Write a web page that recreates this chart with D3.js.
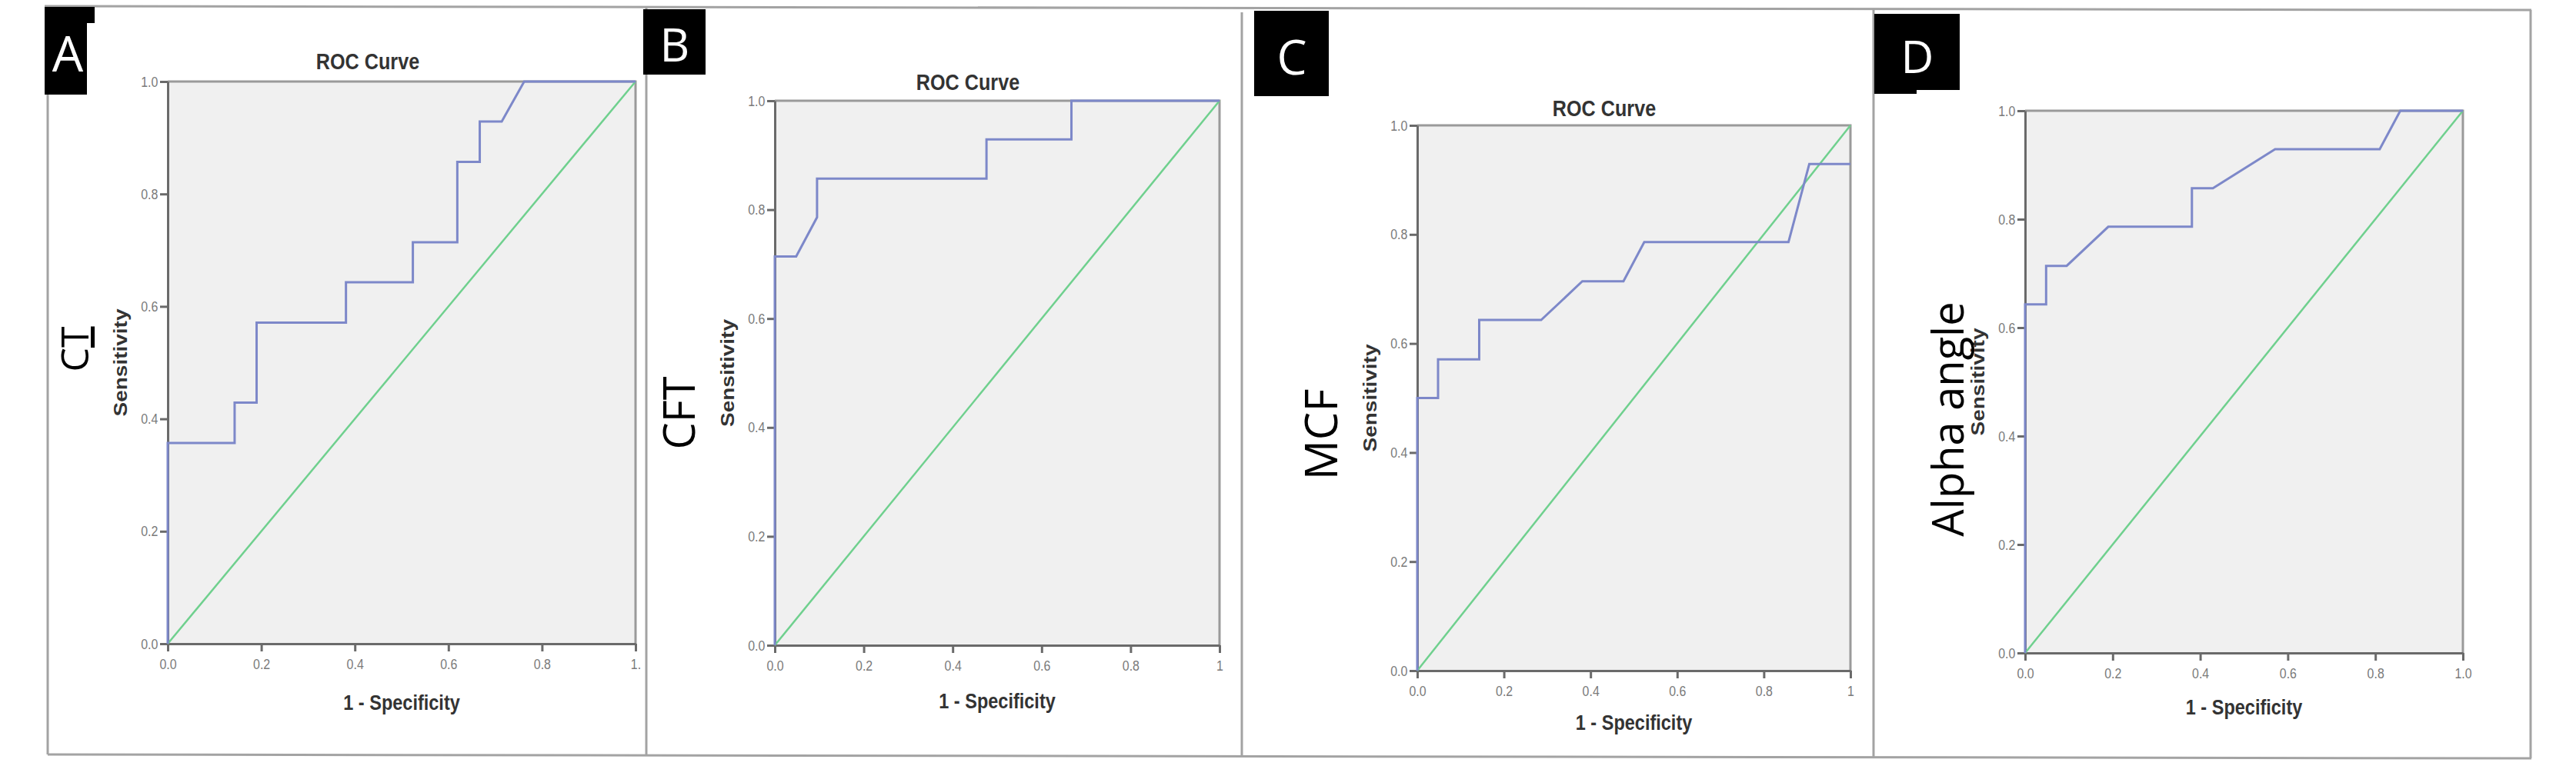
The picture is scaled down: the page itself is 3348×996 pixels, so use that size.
<!DOCTYPE html>
<html><head><meta charset="utf-8">
<script src="https://cdn.jsdelivr.net/npm/d3@7/dist/d3.min.js"></script>
<style>body{margin:0;background:#fff} svg{display:block}</style>
</head><body>
<svg id="chart" width="3348" height="996"></svg>
<script>
// ---------- data ----------
const panelLetters = ["A", "B", "C", "D"];
const panelNames = ["CT", "CFT", "MCF", "Alpha angle"];
const panelTitles = ["ROC Curve", "ROC Curve", "ROC Curve", ""];
const axisTicks = [0, 0.2, 0.4, 0.6, 0.8, 1];
const yTickLabels = ["0.0", "0.2", "0.4", "0.6", "0.8", "1.0"];
const xTickLabelsA = ["0.0", "0.2", "0.4", "0.6", "0.8", "1."];
const xTickLabelsB = ["0.0", "0.2", "0.4", "0.6", "0.8", "1"];
const xTickLabelsC = ["0.0", "0.2", "0.4", "0.6", "0.8", "1"];
const xTickLabelsD = ["0.0", "0.2", "0.4", "0.6", "0.8", "1.0"];
const xAxisTitle = "1 - Specificity";
const yAxisTitle = "Sensitivity";

// ROC curves: 1 - specificity (fpr) and sensitivity (tpr)
const fprA = [0, 0, 0.143, 0.143, 0.190, 0.190, 0.381, 0.381, 0.524, 0.524, 0.619, 0.619, 0.667, 0.667, 0.714, 0.762, 1];
const tprA = [0, 0.357, 0.357, 0.429, 0.429, 0.571, 0.571, 0.643, 0.643, 0.714, 0.714, 0.857, 0.857, 0.929, 0.929, 1, 1];
const fprB = [0, 0, 0.048, 0.095, 0.095, 0.476, 0.476, 0.667, 0.667, 1];
const tprB = [0, 0.714, 0.714, 0.786, 0.857, 0.857, 0.929, 0.929, 1, 1];
const fprC = [0, 0, 0.048, 0.048, 0.143, 0.143, 0.286, 0.381, 0.476, 0.524, 0.857, 0.905, 1];
const tprC = [0, 0.5, 0.5, 0.571, 0.571, 0.643, 0.643, 0.714, 0.714, 0.786, 0.786, 0.929, 0.929];
const fprD = [0, 0, 0.048, 0.048, 0.095, 0.190, 0.381, 0.381, 0.429, 0.571, 0.810, 0.857, 1];
const tprD = [0, 0.643, 0.643, 0.714, 0.714, 0.786, 0.786, 0.857, 0.857, 0.929, 0.929, 1, 1];
// reference (chance) line
const chanceFpr = [0, 1];
const chanceTpr = [0, 1];

// ---------- layout / style ----------
const fprs = [fprA, fprB, fprC, fprD];
const tprs = [tprA, tprB, tprC, tprD];
const xTickSets = [xTickLabelsA, xTickLabelsB, xTickLabelsC, xTickLabelsD];

const layout = [
  {l: 218, r: 826, t: 106, b: 837, titleX: 478, titleY: 90, xlabY: 923,
   boxes: [[58, 9, 65, 21], [58, 9, 55, 114]], letX: 88, letY: 93, letSize: 64,
   nameX: 115, nameY: 454, nameSize: 50},
  {l: 1007, r: 1585, t: 131, b: 839, titleX: 1258, titleY: 117, xlabY: 921,
   boxes: [[836, 12, 81, 85]], letX: 877, letY: 80, letSize: 60,
   nameX: 903, nameY: 537, nameSize: 56},
  {l: 1842, r: 2405, t: 163, b: 872, titleX: 2085, titleY: 151, xlabY: 949,
   boxes: [[1630, 14, 97, 111]], letX: 1679, letY: 97, letSize: 62,
   nameX: 1738, nameY: 565, nameSize: 58},
  {l: 2632, r: 3201, t: 144, b: 849, titleX: 0, titleY: 0, xlabY: 929,
   boxes: [[2436, 18, 111, 99], [2436, 18, 55, 104]], letX: 2492, letY: 95, letSize: 59,
   nameX: 2552, nameY: 545, nameSize: 56}
];

const SX = 0.84; // horizontal squeeze of the original SPSS graphics
const chartFont = "'Liberation Sans', Arial, sans-serif";
const labelFont = "'Open Sans', 'Noto Sans', sans-serif";
const frameColor = "#a3a3a3";

const svg = d3.select("#chart");
svg.append("rect").attr("width", 3348).attr("height", 996).attr("fill", "#fff");

// outer frame and dividers
const frame = svg.append("g").attr("stroke", frameColor).attr("stroke-width", 3).attr("fill", "none");
frame.append("line").attr("x1", 58).attr("y1", 8).attr("x2", 3290).attr("y2", 13);
frame.append("line").attr("x1", 62).attr("y1", 981).attr("x2", 3290).attr("y2", 986);
[[62, 8, 981], [840, 8, 983], [1614, 16, 984], [2435, 12, 985], [3289, 13, 986]].forEach(v => {
  frame.append("line").attr("x1", v[0]).attr("y1", v[1]).attr("x2", v[0]).attr("y2", v[2]);
});

layout.forEach((L, i) => {
  const g = svg.append("g");
  const x = d3.scaleLinear().domain([0, 1]).range([L.l, L.r]);
  const y = d3.scaleLinear().domain([0, 1]).range([L.b, L.t]);

  // plot background
  g.append("rect").attr("x", x(0)).attr("y", y(1))
    .attr("width", x(1) - x(0)).attr("height", y(0) - y(1)).attr("fill", "#f0f0f0");
  // top/right border
  g.append("path").attr("d", `M${x(0)},${y(1)}H${x(1)}V${y(0)}`)
    .attr("fill", "none").attr("stroke", "#9a9a9a").attr("stroke-width", 3);

  // axes
  const xAxis = d3.axisBottom(x).tickValues(axisTicks)
    .tickFormat((d, j) => xTickSets[i][j]).tickSize(10).tickSizeOuter(0).tickPadding(10);
  const yAxis = d3.axisLeft(y).tickValues(axisTicks)
    .tickFormat((d, j) => yTickLabels[j]).tickSize(10).tickSizeOuter(0).tickPadding(5);
  [[xAxis, `translate(0,${y(0)})`], [yAxis, `translate(${x(0)},0)`]].forEach(([ax, tr]) => {
    const ga = g.append("g").attr("transform", tr).call(ax);
    ga.select(".domain").attr("stroke", "#6a6a6a").attr("stroke-width", 3);
    ga.selectAll(".tick line").attr("stroke", "#6a6a6a").attr("stroke-width", 3);
    ga.selectAll(".tick text").attr("fill", "#7a7a7a").attr("font-size", 19)
      .attr("font-family", chartFont).attr("transform", `scale(${SX},1)`);
  });

  // lines
  const line = d3.line().x(d => x(d[0])).y(d => y(d[1]));
  g.append("path").datum(d3.zip(chanceFpr, chanceTpr)).attr("d", line)
    .attr("fill", "none").attr("stroke", "#6fd08e").attr("stroke-width", 2.5);
  g.append("path").datum(d3.zip(fprs[i], tprs[i])).attr("d", line)
    .attr("fill", "none").attr("stroke", "#7d88c9").attr("stroke-width", 3)
    .attr("stroke-linejoin", "miter");

  // chart texts
  if (panelTitles[i]) {
    g.append("text").attr("transform", `translate(${L.titleX},${L.titleY}) scale(${SX},1)`)
      .attr("text-anchor", "middle").attr("font-family", chartFont).attr("font-weight", "bold")
      .attr("font-size", 30).attr("fill", "#333").text(panelTitles[i]);
  }
  g.append("text").attr("transform", `translate(${(x(0) + x(1)) / 2},${L.xlabY}) scale(${SX},1)`)
    .attr("text-anchor", "middle").attr("font-family", chartFont).attr("font-weight", "bold")
    .attr("font-size", 28).attr("fill", "#333").text(xAxisTitle);
  g.append("text").attr("transform", `translate(${x(0) - 53},${(y(0) + y(1)) / 2}) scale(${SX},1) rotate(-90)`)
    .attr("text-anchor", "middle").attr("font-family", chartFont).attr("font-weight", "bold")
    .attr("font-size", 28).attr("fill", "#333").text(yAxisTitle);

  // panel name (rotated)
  const nm = g.append("text").attr("transform", `translate(${L.nameX},${L.nameY}) rotate(-90)`)
    .attr("text-anchor", "middle").attr("font-family", labelFont)
    .attr("font-size", L.nameSize).attr("fill", "#000");
  if (i === 0) {
    nm.append("tspan").text(panelNames[i].slice(0, 1));
    nm.append("tspan").attr("text-decoration", "underline").text(panelNames[i].slice(1));
  } else {
    nm.text(panelNames[i]);
  }

  // letter box
  L.boxes.forEach(bx => {
    g.append("rect").attr("x", bx[0]).attr("y", bx[1]).attr("width", bx[2]).attr("height", bx[3]).attr("fill", "#000");
  });
  g.append("text").attr("x", L.letX).attr("y", L.letY).attr("text-anchor", "middle")
    .attr("font-family", labelFont).attr("font-size", L.letSize).attr("fill", "#fff")
    .text(panelLetters[i]);
});
</script>
</body></html>
